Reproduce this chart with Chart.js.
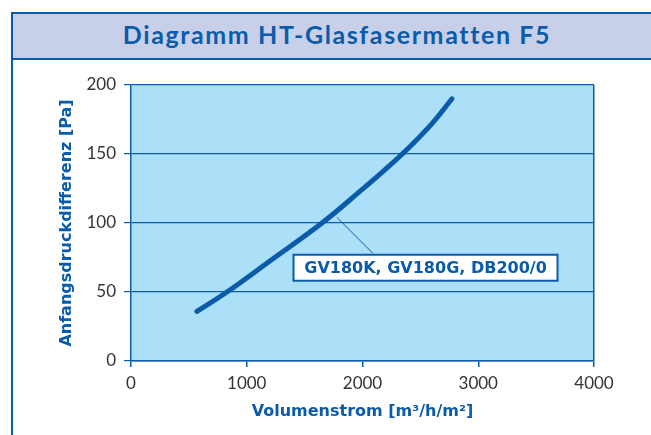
<!DOCTYPE html>
<html>
<head>
<meta charset="utf-8">
<script src="https://cdn.jsdelivr.net/npm/chart.js@4.4.0/dist/chart.umd.min.js"></script>
<style>
  html, body { margin: 0; padding: 0; background: #fff; }
  body { width: 651px; height: 435px; position: relative; overflow: hidden; font-family: Lato, "Open Sans", sans-serif; }
  .frame { position: absolute; left: 11px; top: 12px; width: 700px; height: 500px; border: 2px solid #0a5cab; box-sizing: border-box; }
  .head { position: absolute; left: 11px; top: 12px; width: 700px; height: 48px; background: #c8d0e9; border: 2px solid #0a5cab; border-right: none; box-sizing: border-box; }
  .head h1 { margin: 0; position: absolute; left: 0; width: 648px; top: 5px; text-align: center; font-size: 25px; font-weight: 700; color: #0a5cab; letter-spacing: 1.6px; }
  canvas { position: absolute; left: 0; top: 0; }
</style>
</head>
<body>
<div class="frame"></div>
<div class="head"><h1>Diagramm HT-Glasfasermatten F5</h1></div>
<canvas id="chart" width="651" height="435"></canvas>
<script>
// Volumenstrom [m³/h/m²] vs. Anfangsdruckdifferenz [Pa]
const flow = [570, 829, 1200, 1650, 2000, 2200, 2400, 2600, 2773];
const pressure = [36, 50, 72.5, 100, 124.5, 139, 154.5, 172, 190];
const seriesLabel = 'GV180K, GV180G, DB200/0';
const xTicks = [0, 1000, 2000, 3000, 4000];
const yTicks = [0, 50, 100, 150, 200];

const blue = '#0a5cab';
const tickFont = { family: 'Lato, sans-serif', size: 17 };
const titleFont = { family: '"DejaVu Sans", sans-serif', size: 16, weight: 'bold' };

// hellblauer Hintergrund der Zeichenfläche + Beschriftungskasten
const plotDeco = {
  id: 'plotDeco',
  beforeDraw(chart) {
    const a = chart.chartArea, c = chart.ctx;
    c.save();
    c.fillStyle = '#acdff8';
    c.fillRect(a.left, a.top, a.right - a.left, a.bottom - a.top);
    c.restore();
  },
  afterDraw(chart) {
    const c = chart.ctx, x = chart.scales.x, y = chart.scales.y;
    // Hinweislinie von der Kurve zum Kasten
    const px = x.getPixelForValue(1780), py = y.getPixelForValue(104);
    const bx = x.getPixelForValue(2090), by = y.getPixelForValue(78);
    c.save();
    c.strokeStyle = blue;
    c.lineWidth = 1;
    c.beginPath();
    c.moveTo(px, py);
    c.lineTo(bx, by);
    c.stroke();
    // Kasten
    const left = x.getPixelForValue(1404), top = y.getPixelForValue(77);
    const w = 264, h = 26;
    c.fillStyle = '#fff';
    c.fillRect(left, top, w, h);
    c.lineWidth = 2;
    c.strokeRect(left, top, w, h);
    c.fillStyle = blue;
    c.font = 'bold 16px "DejaVu Sans", sans-serif';
    c.textAlign = 'center';
    c.textBaseline = 'middle';
    c.fillText(seriesLabel, left + w / 2, top + h / 2 + 1);
    c.restore();
  }
};

new Chart(document.getElementById('chart'), {
  type: 'line',
  data: {
    datasets: [{
      label: seriesLabel,
      data: flow.map((v, i) => ({ x: v, y: pressure[i] })),
      borderColor: blue,
      borderWidth: 5,
      borderCapStyle: 'round',
      pointRadius: 0,
      tension: 0.4,
      fill: false
    }]
  },
  options: {
    responsive: false,
    animation: false,
    layout: { padding: { left: 0, top: 85, right: 57, bottom: 0 } },
    plugins: { legend: { display: false }, tooltip: { enabled: false } },
    scales: {
      x: {
        type: 'linear',
        min: 0, max: 4000,
        afterBuildTicks: s => { s.ticks = xTicks.map(v => ({ value: v })); },
        afterFit: s => { s.height = 74; },
        ticks: { color: '#333', font: tickFont, padding: 6, callback: v => String(v) },
        grid: {
          color: ctx => ctx.tick && ctx.tick.value === 4000 ? blue : 'transparent',
          tickColor: blue,
          tickLength: 6,
          lineWidth: 1.5
        },
        border: { color: blue, width: 1.5 },
        title: {
          display: true,
          text: 'Volumenstrom [m³/h/m²]',
          color: blue,
          font: titleFont,
          padding: { top: 0, bottom: 14 }
        }
      },
      y: {
        min: 0, max: 200,
        afterBuildTicks: s => { s.ticks = yTicks.map(v => ({ value: v })); },
        afterFit: s => { s.width = 131; },
        ticks: { color: '#333', font: tickFont, padding: 8, callback: v => String(v) },
        grid: { color: blue, tickColor: blue, tickLength: 7, lineWidth: 1.2 },
        border: { color: blue, width: 1.5 },
        title: {
          display: true,
          text: 'Anfangsdruckdifferenz [Pa]',
          color: blue,
          font: titleFont,
          padding: { top: 57, bottom: 0 }
        }
      }
    }
  },
  plugins: [plotDeco]
});
</script>
</body>
</html>
